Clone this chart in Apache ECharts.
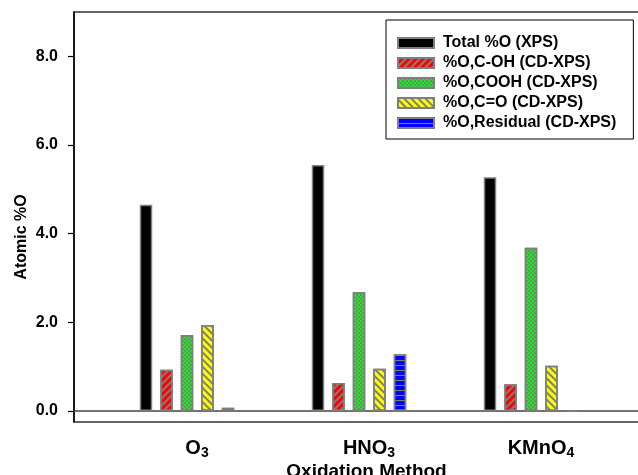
<!DOCTYPE html>
<html>
<head>
<meta charset="utf-8">
<script src="https://cdn.jsdelivr.net/npm/echarts@6/dist/echarts.min.js"></script>
<style>
  html, body { margin: 0; padding: 0; background: #fff; }
  #chart { width: 638px; height: 475px; }
</style>
</head>
<body>
<div id="chart"></div>
<script>
// data
const categories = ['O3', 'HNO3', 'KMnO4'];
const catLabels = { O3: 'O{s|3}', HNO3: 'HNO{s|3}', KMnO4: 'KMnO{s|4}' };
const names = ['Total %O (XPS)', '%O,C-OH (CD-XPS)', '%O,COOH (CD-XPS)', '%O,C=O (CD-XPS)', '%O,Residual (CD-XPS)'];
const totalO = [4.65, 5.55, 5.27];
const cOH = [0.93, 0.63, 0.60];
const cooh = [1.71, 2.68, 3.68];
const cdo = [1.94, 0.95, 1.02];
const residual = [0.07, 1.28, -0.02];
const yTicks = [0, 2, 4, 6, 8];

const FONT = 'Liberation Sans';
const edge = '#7f7f7f';

const styles = [
  { color: '#000000', borderColor: edge, borderWidth: 1.5 },
  { color: '#ff0000', borderColor: edge, borderWidth: 1.5,
    decal: { symbol: 'rect', color: edge, dashArrayX: [1, 0], dashArrayY: [2, 3], rotation: -Math.PI / 4 } },
  { color: '#00ff00', borderColor: edge, borderWidth: 1.5,
    decal: { symbol: 'rect', color: edge, dashArrayX: [[2, 2], [0, 2, 2, 0]], dashArrayY: [2, 0], rotation: 0 } },
  { color: '#ffff00', borderColor: edge, borderWidth: 1.5,
    decal: { symbol: 'rect', color: edge, dashArrayX: [1, 0], dashArrayY: [2, 3], rotation: Math.PI / 4 } },
  { color: '#0000ff', borderColor: edge, borderWidth: 1.5,
    decal: { symbol: 'rect', color: edge, dashArrayX: [1, 0], dashArrayY: [1, 4], rotation: 0 } }
];
const values = [totalO, cOH, cooh, cdo, residual];

const chart = echarts.init(document.getElementById('chart'));
chart.setOption({
  animation: false,
  textStyle: { fontFamily: FONT },
  grid: [
    { left: 74, top: 12, right: -10, bottom: 53, outerBoundsMode: 'none', containLabel: false,
      show: true, borderColor: '#333', borderWidth: 1.5, backgroundColor: 'transparent' },
    { left: 101, width: 516, top: 12, bottom: 53, outerBoundsMode: 'none', containLabel: false }
  ],
  legend: {
    orient: 'vertical',
    left: 386, top: 20,
    padding: [15, 17, 8, 11],
    borderColor: '#000', borderWidth: 1,
    backgroundColor: '#fff',
    itemWidth: 36, itemHeight: 10, itemGap: 4,
    icon: 'rect',
    data: names,
    textStyle: { fontFamily: FONT, fontWeight: 'bold', fontSize: 16, color: '#000', lineHeight: 15, padding: [0, 0, 0, 4] }
  },
  xAxis: [
    { gridIndex: 0, type: 'value', min: 0, max: 1,
      axisLine: { onZero: true, lineStyle: { color: '#444', width: 1.5 } },
      axisTick: { show: false }, axisLabel: { show: false }, splitLine: { show: false } },
    { gridIndex: 1, type: 'category', data: categories,
      axisLine: { show: false }, axisTick: { show: false }, splitLine: { show: false },
      axisLabel: {
        margin: 14,
        formatter: v => catLabels[v],
        color: '#000', fontWeight: 'bold', fontSize: 20, padding: [0, 0, 0, 20],
        rich: { s: { fontSize: 14, fontWeight: 'bold', verticalAlign: 'bottom', padding: [10, 0, 0, 0] } }
      },
      name: 'Oxidation Method', nameLocation: 'middle', nameGap: 40, nameMoveOverlap: false,
      nameTextStyle: { color: '#000', fontWeight: 'bold', fontSize: 19, padding: [0, 0, 0, 15] } }
  ],
  yAxis: [
    { gridIndex: 0, type: 'value', min: -0.25, max: 9,
      axisLine: { show: true, lineStyle: { color: '#000', width: 1.5 } },
      axisTick: { show: true, length: 6, inside: false, customValues: yTicks, lineStyle: { color: '#000', width: 1.2 } },
      axisLabel: { customValues: yTicks, formatter: v => v.toFixed(1), color: '#000', fontWeight: 'bold', fontSize: 16, margin: 16 },
      splitLine: { show: false },
      name: 'Atomic %O', nameLocation: 'middle', nameGap: 44, nameMoveOverlap: false,
      nameTextStyle: { color: '#000', fontWeight: 'bold', fontSize: 16, padding: [0, 40, 0, 0] } },
    { gridIndex: 1, type: 'value', min: -0.25, max: 9, show: false }
  ],
  series: names.map((n, i) => ({
    name: n, type: 'bar', xAxisIndex: 1, yAxisIndex: 1,
    data: values[i], barWidth: 12.5, barGap: '64%',
    itemStyle: styles[i]
  }))
});
</script>
</body>
</html>
